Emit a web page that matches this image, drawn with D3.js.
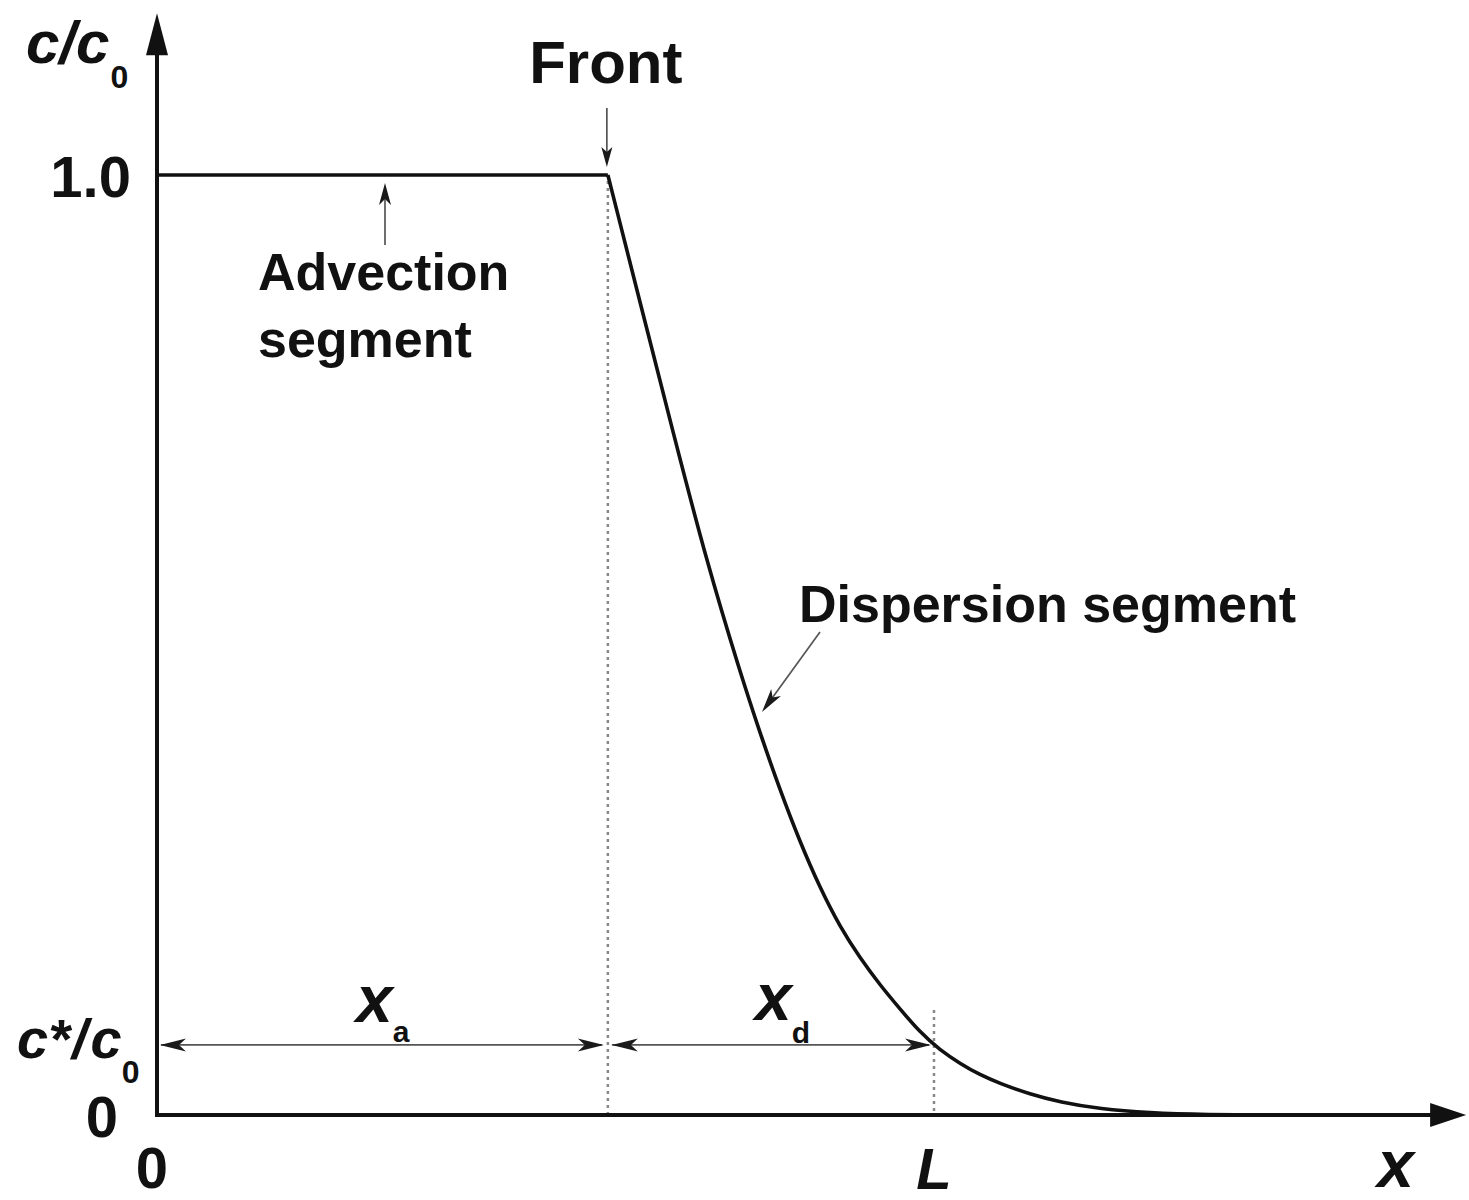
<!DOCTYPE html>
<html>
<head>
<meta charset="utf-8">
<script src="https://cdn.jsdelivr.net/npm/d3@7"></script>
<style>
  html, body { margin: 0; padding: 0; background: #fff; }
  svg text { font-family: "Liberation Sans", Arial, sans-serif; font-weight: bold; fill: #111; }
</style>
</head>
<body>
<svg id="chart" width="1469" height="1200"></svg>
<script>
// ---- data (x in units of L, y = c/c0) ----
const curveX = [0, 0.581, 0.6224, 0.6649, 0.7088, 0.7513, 0.7771, 0.8028, 0.8286, 0.8544, 0.8802, 0.9059,
                0.9317, 0.9575, 0.9832, 1.0090, 1.0348, 1.0606, 1.0863, 1.125, 1.1637, 1.2152, 1.2796, 1.3441, 1.473];
const curveY = [1, 1, 0.8649, 0.7266, 0.5872, 0.4713, 0.4064, 0.3457, 0.2904, 0.2415, 0.2000, 0.1670,
                0.1383, 0.1128, 0.0880, 0.0690, 0.0548, 0.0426, 0.0335, 0.0221, 0.0137, 0.0064, 0.0021, 0.0003, 0];
const frontX = 0.581;
const lengthL = 1.0;
const cStar = 0.0745;
const yTickLabels = ["0", "1.0"];
const yTickValues = [0, 1];
const xTickLabels = ["0", "L", "x"];
const xTickValues = [0, 1.0, 1.596];
const axisXEnd = 1.687;
const axisYEnd = 1.172;

// ---- scales ----
const x = d3.scaleLinear().domain([0, 1]).range([157, 933]);
const y = d3.scaleLinear().domain([0, 1]).range([1115, 175]);

const svg = d3.select("#chart");
const ink = "#111";
const thin = "#555";

// arrowhead helper: filled polygon with tip at (tx,ty) pointing along angle
function head(tx, ty, angle, len, half, notch, color) {
  const ca = Math.cos(angle), sa = Math.sin(angle);
  const P = (a, b) => [tx - a * ca - b * sa, ty - a * sa + b * ca];
  const pts = [P(0, 0), P(len, -half), P(len - notch, 0), P(len, half)];
  svg.append("polygon")
    .attr("points", pts.map(p => p.join(",")).join(" "))
    .attr("fill", color);
}

// ---- dotted guide lines ----
svg.append("line")
  .attr("x1", x(frontX)).attr("x2", x(frontX))
  .attr("y1", y(1) + 6).attr("y2", y(0) + 2)
  .attr("stroke", "#888").attr("stroke-width", 2.5)
  .attr("stroke-dasharray", "3,4");
svg.append("line")
  .attr("x1", x(lengthL) + 1).attr("x2", x(lengthL) + 1)
  .attr("y1", y(cStar) - 35).attr("y2", y(0) + 2)
  .attr("stroke", "#888").attr("stroke-width", 2.5)
  .attr("stroke-dasharray", "3,4");

// ---- dimension arrows ----
const yDim = y(cStar);
svg.append("line").attr("x1", x(0) + 4).attr("x2", x(frontX) - 6)
  .attr("y1", yDim).attr("y2", yDim).attr("stroke", thin).attr("stroke-width", 1.7);
head(x(0) + 3, yDim, Math.PI, 26, 6.5, 7, "#1a1a1a");
head(x(frontX) - 4, yDim, 0, 26, 6.5, 7, "#1a1a1a");
svg.append("line").attr("x1", x(frontX) + 4).attr("x2", x(lengthL) - 4)
  .attr("y1", yDim).attr("y2", yDim).attr("stroke", thin).attr("stroke-width", 1.7);
head(x(frontX) + 4, yDim, Math.PI, 26, 6.5, 7, "#1a1a1a");
head(x(lengthL) - 2, yDim, 0, 26, 6.5, 7, "#1a1a1a");

// ---- curve ----
const pts = curveX.map((v, i) => [v, curveY[i]]);
svg.append("path").datum(pts.slice(0, 2))
  .attr("d", d3.line().x(d => x(d[0])).y(d => y(d[1])))
  .attr("fill", "none").attr("stroke", ink).attr("stroke-width", 3.6);
svg.append("path").datum(pts.slice(1))
  .attr("d", d3.line().x(d => x(d[0])).y(d => y(d[1])).curve(d3.curveBasis))
  .attr("fill", "none").attr("stroke", ink).attr("stroke-width", 3.6)
  .attr("stroke-linejoin", "round");

// ---- axes ----
const x0 = x(0), y0 = y(0);
svg.append("line").attr("x1", x0).attr("x2", x0).attr("y1", y0 + 2).attr("y2", y(axisYEnd) + 30)
  .attr("stroke", ink).attr("stroke-width", 4);
svg.append("line").attr("x1", x0 - 2).attr("x2", x(axisXEnd) - 30).attr("y1", y0).attr("y2", y0)
  .attr("stroke", ink).attr("stroke-width", 4);
head(x0, y(axisYEnd), -Math.PI / 2, 42, 11, 0, ink);
head(x(axisXEnd), y0, 0, 36, 12, 0, ink);

// ---- tick labels ----
svg.append("text").attr("x", 131).attr("y", y(yTickValues[1]) + 22)
  .attr("text-anchor", "end").attr("font-size", 58).text(yTickLabels[1]);
svg.append("text").attr("x", 118).attr("y", y(yTickValues[0]) + 22)
  .attr("text-anchor", "end").attr("font-size", 58).text(yTickLabels[0]);
svg.append("text").attr("x", x(xTickValues[0]) - 5).attr("y", 1188)
  .attr("text-anchor", "middle").attr("font-size", 58).text(xTickLabels[0]);
svg.append("text").attr("x", x(xTickValues[1]) + 1).attr("y", 1189)
  .attr("text-anchor", "middle").attr("font-size", 58).attr("font-style", "italic").text(xTickLabels[1]);
svg.append("text").attr("x", x(xTickValues[2])).attr("y", 1187)
  .attr("text-anchor", "middle").attr("font-size", 66).attr("font-style", "italic").text(xTickLabels[2]);

// ---- axis title c/c0 ----
const t1 = svg.append("text").attr("x", 26).attr("y", 63).attr("font-size", 60).attr("font-style", "italic");
t1.append("tspan").text("c/c");
t1.append("tspan").attr("font-size", 32).attr("font-style", "normal").attr("dy", 25).attr("dx", 1).text("0");

// ---- c*/c0 label ----
const t2 = svg.append("text").attr("x", 17).attr("y", 1058).attr("font-size", 56).attr("font-style", "italic");
t2.append("tspan").text("c*");
t2.append("tspan").attr("dx", 2).text("/");
t2.append("tspan").attr("dx", 3).text("c");
t2.append("tspan").attr("font-size", 32).attr("font-style", "normal").attr("dy", 25).attr("dx", 0).text("0");

// ---- x_a and x_d ----
const xa = svg.append("text").attr("x", 356).attr("y", 1022).attr("font-size", 66).attr("font-style", "italic");
xa.append("tspan").text("x");
xa.append("tspan").attr("font-size", 30).attr("font-style", "normal").attr("dy", 20).attr("dx", 0).text("a");
const xd = svg.append("text").attr("x", 755).attr("y", 1020).attr("font-size", 66).attr("font-style", "italic");
xd.append("tspan").text("x");
xd.append("tspan").attr("font-size", 30).attr("font-style", "normal").attr("dy", 23).attr("dx", 0).text("d");

// ---- annotations ----
svg.append("text").attr("x", x(frontX) - 2).attr("y", 83).attr("text-anchor", "middle")
  .attr("font-size", 60).text("Front");
svg.append("line").attr("x1", x(frontX) - 1).attr("x2", x(frontX) - 1).attr("y1", 108).attr("y2", y(1) - 20)
  .attr("stroke", thin).attr("stroke-width", 1.7);
head(x(frontX) - 1, y(1) - 8, Math.PI / 2, 20, 5.5, 5, "#1a1a1a");

svg.append("text").attr("x", 258).attr("y", 290).attr("font-size", 52).text("Advection");
svg.append("text").attr("x", 258).attr("y", 357).attr("font-size", 52).text("segment");
svg.append("line").attr("x1", 385).attr("x2", 385).attr("y1", 245).attr("y2", y(1) + 20)
  .attr("stroke", thin).attr("stroke-width", 1.7);
head(385, y(1) + 8, -Math.PI / 2, 22, 6, 6, "#1a1a1a");

svg.append("text").attr("x", 799).attr("y", 622).attr("font-size", 52).text("Dispersion segment");
const ang = Math.atan2(712 - 632, 762 - 820);
svg.append("line").attr("x1", 820).attr("y1", 632).attr("x2", 762 - 14 * Math.cos(ang)).attr("y2", 712 - 14 * Math.sin(ang))
  .attr("stroke", thin).attr("stroke-width", 1.7);
head(762, 712, ang, 24, 6, 6, "#1a1a1a");
</script>
</body>
</html>
